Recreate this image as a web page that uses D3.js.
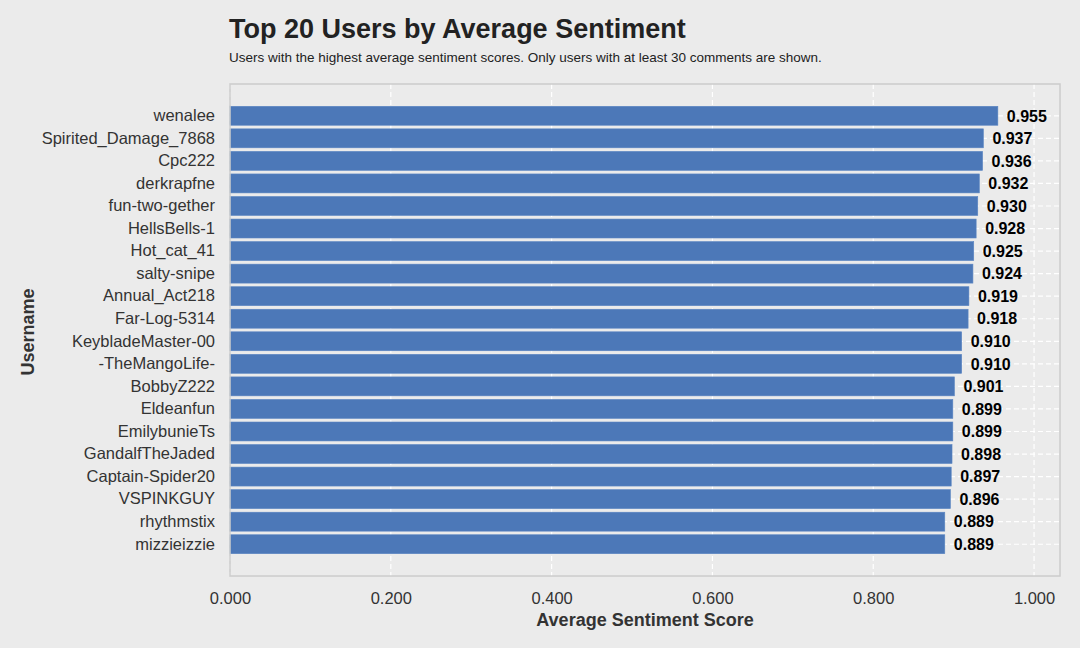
<!DOCTYPE html>
<html><head><meta charset="utf-8">
<script src="https://cdn.jsdelivr.net/npm/d3@7"></script>
<style>body{margin:0;background:#ebebeb;} svg{display:block;font-family:"Liberation Sans",Arial,sans-serif;}</style>
</head><body>
<svg id="c" width="1080" height="648"></svg>
<script>
const users = ["wenalee","Spirited_Damage_7868","Cpc222","derkrapfne","fun-two-gether","HellsBells-1","Hot_cat_41","salty-snipe","Annual_Act218","Far-Log-5314","KeybladeMaster-00","-TheMangoLife-","BobbyZ222","Eldeanfun","EmilybunieTs","GandalfTheJaded","Captain-Spider20","VSPINKGUY","rhythmstix","mizzieizzie"];
const scores = [0.955,0.937,0.936,0.932,0.930,0.928,0.925,0.924,0.919,0.918,0.910,0.910,0.901,0.899,0.899,0.898,0.897,0.896,0.889,0.889];
const xTicks = [0,0.2,0.4,0.6,0.8,1.0];

const svg = d3.select("#c");
const L=230,R=1060,T=84,B=576;
svg.append("rect").attr("width",1080).attr("height",648).attr("fill","#ebebeb");
const x = d3.scaleLinear().domain([0,1.0323]).range([L,R]);
const pad = 20.5;
const y = d3.scaleBand().domain(users).range([T+pad,B-pad]).paddingInner(0.16).paddingOuter(0.08);

// grid
svg.append("g").selectAll("line").data(xTicks).join("line")
  .attr("x1",d=>x(d)).attr("x2",d=>x(d)).attr("y1",T).attr("y2",B)
  .attr("stroke","#fff").attr("stroke-width",1.2).attr("stroke-dasharray","5,3");
svg.append("g").selectAll("line").data(users).join("line")
  .attr("x1",L).attr("x2",R).attr("y1",d=>y(d)+y.bandwidth()/2).attr("y2",d=>y(d)+y.bandwidth()/2)
  .attr("stroke","#fff").attr("stroke-width",1.2).attr("stroke-dasharray","5,3");

// bars
svg.append("g").selectAll("rect").data(users).join("rect")
  .attr("x",x(0)).attr("y",d=>y(d)).attr("height",y.bandwidth())
  .attr("width",(d,i)=>x(scores[i])-x(0))
  .attr("fill","#4c78b8").attr("stroke","#5a85c2").attr("stroke-width",0.6);

// value labels
svg.append("g").selectAll("text").data(users).join("text")
  .attr("x",(d,i)=>x(scores[i])+9).attr("y",d=>y(d)+y.bandwidth()/2)
  .attr("dy","0.36em").attr("font-size",16).attr("font-weight","bold").attr("fill","#000")
  .text((d,i)=>d3.format(".3f")(scores[i]));

// border
svg.append("rect").attr("x",L).attr("y",T).attr("width",R-L).attr("height",B-T)
  .attr("fill","none").attr("stroke","#cccccc").attr("stroke-width",1.5);

// axes
const xa = svg.append("g").attr("transform",`translate(0,${B})`)
  .call(d3.axisBottom(x).tickValues(xTicks).tickFormat(d3.format(".3f")).tickSize(0).tickPadding(16));
xa.select(".domain").remove();
xa.selectAll("text").attr("font-size",16.5).attr("fill","#333").attr("font-family","Liberation Sans, Arial, sans-serif");

const ya = svg.append("g").attr("transform",`translate(${L},0)`)
  .call(d3.axisLeft(y).tickSize(0).tickPadding(15));
ya.select(".domain").remove();
ya.selectAll("text").attr("font-size",16.5).attr("fill","#333").attr("font-family","Liberation Sans, Arial, sans-serif");

// titles
svg.append("text").attr("x",229).attr("y",38).attr("font-size",27).attr("font-weight","bold").attr("fill","#222")
  .text("Top 20 Users by Average Sentiment");
svg.append("text").attr("x",229).attr("y",62).attr("font-size",13.5).attr("fill","#222")
  .text("Users with the highest average sentiment scores. Only users with at least 30 comments are shown.");
svg.append("text").attr("x",645).attr("y",626).attr("text-anchor","middle").attr("font-size",18).attr("font-weight","bold").attr("fill","#333")
  .text("Average Sentiment Score");
svg.append("text").attr("transform","translate(34,332) rotate(-90)").attr("text-anchor","middle").attr("font-size",18).attr("font-weight","bold").attr("fill","#333")
  .text("Username");
</script>
</body></html>
